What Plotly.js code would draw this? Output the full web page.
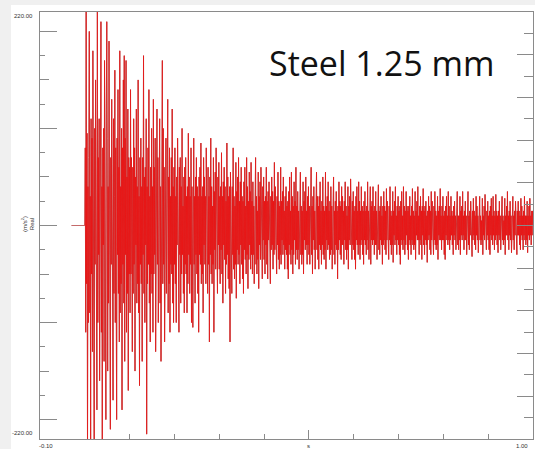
<!DOCTYPE html>
<html>
<head>
<meta charset="utf-8">
<script src="https://cdn.plot.ly/plotly-3.0.1.min.js"></script>
<style>
html,body{margin:0;padding:0;background:#f0f0f0;width:535px;height:449px;overflow:hidden;}
#chart{position:absolute;left:11px;top:5px;width:524px;height:444px;background:#fff;}
</style>
</head>
<body>
<div id="chart"></div>
<script>
// Sampling interval of the recorded signal (s)
const sampleInterval = 0.001;
const startTime = 0.0;

// Acceleration samples (m/s^2), 25 samples per row
const accel = [
0,80,-110,230,-60,95,-240,40,-100,70,200,-90,30,-220,110,-50,90,-130,180,-70,60,-240,100,-40,150,
-80,50,-190,240,-100,70,-30,110,-160,90,-60,210,-110,40,-230,80,-20,100,-140,170,-90,60,-200,120,210,
90,-150,40,-80,190,-60,100,-210,70,-40,130,-90,50,-180,110,-70,30,160,-100,80,-50,-200,90,-30,140,
-70,60,-120,180,-90,40,-60,100,-190,80,-40,150,-80,175,-140,90,-30,170,-110,50,-70,120,-170,70,-50,
60,-90,140,-50,70,-30,-130,60,-70,110,-40,80,-150,50,-20,120,-80,40,-60,150,-90,30,-165,70,-40,
90,-60,40,-140,70,-30,175,-70,50,-100,60,-20,110,-215,40,-60,80,-40,140,-80,30,-120,60,-50,100,
-70,40,-110,130,-50,60,-30,90,-130,50,-60,120,-40,70,-100,30,-50,110,-80,40,-140,60,-30,170,-60,
100,-40,60,-120,30,-50,90,-70,40,-30,130,-90,50,-60,80,-110,30,-40,70,-50,120,-80,40,-100,60,
-40,80,-60,30,-100,50,-20,90,-50,40,-110,60,-30,70,-80,40,-50,100,-30,20,-70,50,-90,60,-40,
70,-50,30,-90,40,-60,95,-30,50,-70,30,-40,80,-100,40,-20,-105,-50,90,-40,30,-80,50,-30,70,
-50,40,-70,30,-110,50,-30,60,-40,85,-60,30,-50,40,-90,70,-20,50,-40,30,-60,80,-30,45,-70,
60,-40,30,-120,50,-30,90,-50,40,-60,20,-40,70,-110,35,-25,55,-45,80,-30,40,-70,50,-20,65,
-45,30,-60,40,-25,75,-50,30,-80,45,-20,60,-35,40,-70,25,-40,85,-30,50,-55,30,-65,40,-120,
55,-35,25,-70,40,-30,80,-45,30,-55,20,-40,65,-75,35,-25,50,-40,70,-30,25,-60,45,-20,60,
-40,30,-55,25,-70,45,-25,60,-35,20,-50,70,-30,40,-65,25,-35,55,-20,35,-45,65,-30,25,-50,
45,-30,20,-60,35,-25,70,-40,30,-50,15,-35,55,-65,30,-20,45,-35,60,-25,20,-55,40,-15,50,
-35,25,-50,30,-20,60,-40,25,-55,35,-15,45,-30,20,-60,30,-25,50,-20,35,-45,25,-30,65,-25,
40,-25,15,-50,30,-20,55,-35,25,-45,20,-30,60,-40,25,-15,35,-30,50,-20,15,-45,30,-25,40,
-30,20,-45,25,-55,35,-20,50,-30,15,-40,55,-25,30,-50,20,-30,45,-15,25,-40,60,-25,20,-35,
35,-25,15,-45,30,-20,55,-30,20,-40,15,-30,45,-50,25,-15,35,-25,50,-20,15,-40,30,-20,40,
-30,20,-40,25,-15,60,-30,20,-50,30,-15,40,-25,15,-45,25,-20,55,-25,30,-35,20,-45,30,-20,
45,-25,15,-40,25,-20,50,-30,20,-35,15,-25,55,-45,20,-15,30,-25,45,-20,15,-35,25,-30,40,
-25,20,-45,25,-15,50,-30,15,-40,25,-20,35,-25,15,-55,20,-25,45,-15,25,-30,20,-35,40,-20,
30,-20,15,-40,25,-15,45,-25,20,-35,10,-25,40,-45,20,-15,30,-20,48,-15,15,-35,25,-20,35,
-25,15,-35,20,-45,30,-15,40,-20,15,-30,45,-20,25,-35,15,-20,40,-15,20,-30,15,-40,25,-15,
35,-20,15,-30,20,-15,45,-25,15,-35,10,-20,40,-40,20,-15,25,-20,40,-15,15,-30,20,-20,35,
-20,15,-35,20,-15,42,-25,15,-30,20,-15,30,-20,10,-40,20,-20,35,-15,20,-25,15,-30,38,-15,
25,-20,10,-35,20,-15,40,-20,15,-30,10,-20,35,-38,15,-10,25,-20,40,-15,10,-30,20,-15,30,
-20,15,-30,20,-40,25,-15,35,-20,10,-25,40,-15,20,-30,15,-20,35,-10,20,-25,15,-35,20,-15,
30,-20,10,-30,20,-15,38,-20,15,-25,10,-20,35,-35,15,-10,25,-15,40,-15,10,-30,20,-15,30,
-20,15,-35,20,-10,38,-20,15,-30,20,-15,25,-20,10,-38,15,-15,30,-10,20,-25,15,-30,35,-15,
25,-15,10,-30,20,-15,35,-20,15,-25,10,-20,30,-35,15,-10,20,-15,38,-15,10,-25,20,-15,30,
-15,10,-30,15,-35,20,-10,30,-15,10,-20,35,-15,20,-25,10,-15,30,-10,15,-20,10,-30,20,-10,
25,-15,10,-25,15,-10,35,-20,10,-25,10,-15,30,-30,15,-10,20,-15,35,-10,10,-25,15,-15,25,
-15,10,-30,15,-10,35,-20,10,-25,15,-10,25,-15,10,-32,15,-15,28,-10,15,-20,10,-25,30,-10,
20,-15,10,-28,15,-10,30,-15,10,-20,5,-15,28,-30,10,-10,20,-15,32,-10,10,-25,15,-10,25,
-15,10,-25,15,-30,20,-10,28,-15,10,-20,30,-10,15,-25,10,-15,32,-10,15,-20,10,-28,15,-10,
25,-15,10,-25,15,-10,30,-15,10,-20,5,-15,28,-30,10,-10,20,-10,35,-15,10,-25,15,-10,25,
-15,10,-28,15,-10,30,-15,10,-25,15,-10,25,-15,10,-30,15,-10,25,-10,15,-20,10,-25,28,-10,
20,-15,10,-25,15,-10,30,-15,10,-20,10,-15,25,-28,10,-10,20,-15,28,-10,10,-20,15,-10,15,
0
];

// Pre-trigger (flat) portion
const preTime = [-0.03, 0.0];
const preAccel = [0, 0];

const time = accel.map((_, i) => startTime + i * sampleInterval);

const axisGray = '#8a8a8a';
const labelFont = {family: 'Liberation Sans, Arial, sans-serif', size: 6, color: '#333'};

const traces = [
  {x: preTime, y: preAccel, type: 'scatter', mode: 'lines',
   line: {color: '#c46a6a', width: 1}, hoverinfo: 'skip'},
  // darker edge of the trace
  {x: time, y: accel, type: 'scatter', mode: 'lines',
   line: {color: '#a85a5a', width: 1.0}, hoverinfo: 'skip'},
  // bright red trace
  {x: time, y: accel, type: 'scatter', mode: 'lines',
   line: {color: '#ff0000', width: 0.45}, hoverinfo: 'skip'}
];

const layout = {
  width: 524, height: 444,
  margin: {l: 29, r: 2, t: 7, b: 10},
  paper_bgcolor: '#ffffff', plot_bgcolor: '#ffffff',
  showlegend: false,
  xaxis: {
    range: [-0.1, 1.0], showgrid: false, zeroline: false,
    showline: true, linecolor: axisGray, linewidth: 1, mirror: true,
    ticks: 'inside', ticklen: 5, tickcolor: axisGray,
    tickvals: [0.1,0.2,0.3,0.4,0.5,0.6,0.7,0.8,0.9], showticklabels: false
  },
  xaxis2: {
    overlaying: 'x', range: [-0.1, 1.0], showgrid: false, zeroline: false,
    showline: false, ticks: 'inside', ticklen: 9, tickcolor: axisGray,
    tickvals: [0.5], showticklabels: false
  },
  yaxis: {
    range: [-220, 220], showgrid: false, zeroline: false,
    showline: true, linecolor: axisGray, linewidth: 1, mirror: true,
    ticks: 'inside', ticklen: 17, tickcolor: axisGray, tick0: 0, dtick: 100,
    showticklabels: false,
    minor: {ticks: 'inside', ticklen: 5, tickcolor: axisGray, dtick: 25, tick0: 0, showgrid: false}
  },
  yaxis2: {
    overlaying: 'y', side: 'left', range: [-220, 220], showgrid: false, zeroline: false,
    showline: false, ticks: 'inside', ticklen: 9, tickcolor: axisGray, tick0: 0, dtick: 50,
    showticklabels: false
  },
  yaxis3: {
    overlaying: 'y', side: 'right', range: [-220, 220], showgrid: false, zeroline: false,
    showline: false, ticks: 'inside', ticklen: 16, tickcolor: axisGray, tick0: 0, dtick: 44,
    showticklabels: false,
    minor: {ticks: 'inside', ticklen: 9, tickcolor: axisGray, dtick: 22, tick0: 0, showgrid: false}
  },
  annotations: [
    {text: 'Steel 1.25 mm', xref: 'paper', yref: 'paper', x: (381-40)/493, y: (439-63)/427,
     xanchor: 'center', yanchor: 'middle', showarrow: false,
     font: {family: 'Open Sans, sans-serif', size: 34, color: '#111'}},
    {text: '220.00', xref: 'paper', yref: 'paper', x: (35-40)/493, y: (439-16)/427,
     xanchor: 'right', yanchor: 'middle', showarrow: false, font: labelFont},
    {text: '-220.00', xref: 'paper', yref: 'paper', x: (35-40)/493, y: (439-433)/427,
     xanchor: 'right', yanchor: 'middle', showarrow: false, font: labelFont},
    {text: '-0.10', xref: 'paper', yref: 'paper', x: (46-40)/493, y: (439-446)/427,
     xanchor: 'center', yanchor: 'middle', showarrow: false, font: labelFont},
    {text: '1.00', xref: 'paper', yref: 'paper', x: (522-40)/493, y: (439-446)/427,
     xanchor: 'center', yanchor: 'middle', showarrow: false, font: labelFont},
    {text: 's', xref: 'paper', yref: 'paper', x: (308-40)/493, y: (439-446)/427,
     xanchor: 'center', yanchor: 'middle', showarrow: false, font: labelFont},
    {text: '(m/s<sup>2</sup>)<br>Real', xref: 'paper', yref: 'paper', x: (27-40)/493, y: (439-224)/427,
     xanchor: 'center', yanchor: 'middle', showarrow: false, textangle: -90,
     font: {family: 'Liberation Sans, Arial, sans-serif', size: 6, color: '#333'}}
  ]
};

// empty traces that switch on the extra tick axes
traces.push({x: [null], y: [null], xaxis: 'x2', yaxis: 'y', type: 'scatter', hoverinfo: 'skip'});
traces.push({x: [null], y: [null], xaxis: 'x', yaxis: 'y2', type: 'scatter', hoverinfo: 'skip'});
traces.push({x: [null], y: [null], xaxis: 'x', yaxis: 'y3', type: 'scatter', hoverinfo: 'skip'});

Plotly.newPlot('chart', traces, layout, {staticPlot: true, displayModeBar: false});
</script>
</body>
</html>
